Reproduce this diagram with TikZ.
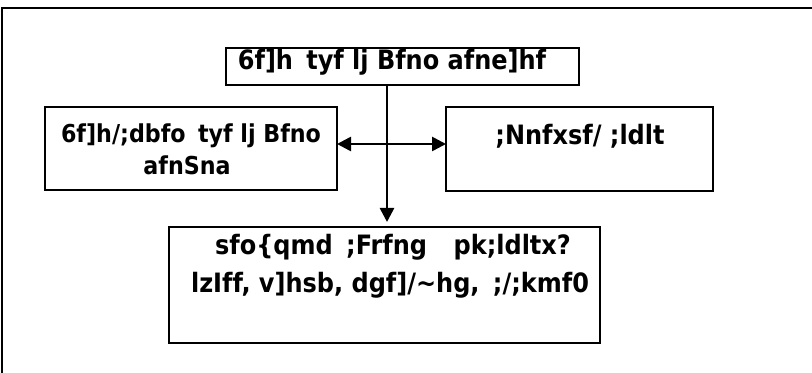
\documentclass[tikz,border=0pt]{standalone}
\usepackage{fontspec}
\setmainfont[Ligatures=NoCommon]{DejaVu Sans Condensed}
\usetikzlibrary{arrows.meta}

\newcommand\px{0.75pt}
\newcommand\wgap{\hspace{0.5em}}
\tikzset{
  box/.style={draw, line width=1.5*\px, inner sep=0pt, outer sep=0pt},
  lbl/.style={anchor=base, inner sep=0pt, font=\fontsize{20}{24}\selectfont\bfseries},
  small/.style={font=\fontsize{18.5}{22}\selectfont\bfseries},
  arr/.style={line width=2.6*\px, -{Triangle[length=14*\px, width=14*\px]}},
}

\begin{document}
\begin{tikzpicture}[x=0.75pt, y=-0.75pt]
  \useasboundingbox (0,0) rectangle (812,373);
  % outer frame, only top and left show
  \draw[line width=1.5*\px] (812,8) -- (2,8) -- (2,373);

  % boxes
  \node[box, minimum width=353*\px, minimum height=37*\px] (top) at (402.5,66.5) {};
  \node[box, minimum width=292*\px, minimum height=83*\px] (lbox) at (191,148.5) {};
  \node[box, minimum width=267*\px, minimum height=84*\px] (rbox) at (579.5,149) {};
  \node[box, minimum width=431*\px, minimum height=116*\px] (bot) at (384.5,285) {};

  % texts
  \node[lbl] (toptxt) at (392,70) {6f]h\wgap tyf lj Bfno afne]hf};
  \node[lbl, small] (ltxta) at (191,143) {6f]h/;dbfo\wgap tyf lj Bfno};
  \node[lbl, small] (ltxtb) at (187,175) {afnSna};
  \node[lbl] (rtxt) at (580,145) {;Nnfxsf/ ;ldlt};
  \node[lbl] (btxta) at (393,255) {sfo\{qmd\wgap ;Frfng\wgap\wgap pk;ldltx?};
  \node[lbl] (btxtb) at (390,293) {lzIff, v]hsb, dgf]/\textasciitilde hg,\wgap ;/;kmf0};

  % connectors
  \coordinate (vx) at (387,0);
  \coordinate (hy) at (0,144);
  \draw[arr, shorten >=5*\px] (top.south -| vx) -- (bot.north -| vx);
  \draw[arr, {Triangle[length=14*\px, width=14*\px]}-{Triangle[length=14*\px, width=14*\px]}]
    (lbox.east |- hy) -- (rbox.west |- hy);
\end{tikzpicture}
\end{document}
